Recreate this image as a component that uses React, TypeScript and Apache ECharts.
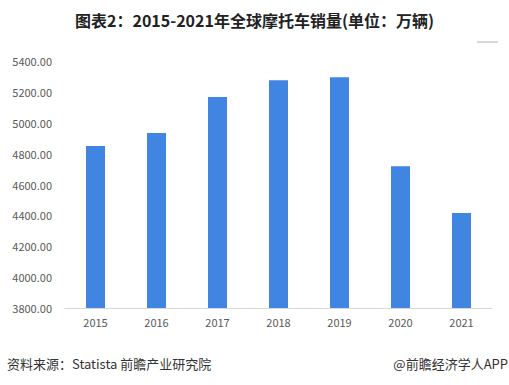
import React, { useEffect, useRef } from "react";
import * as echarts from "echarts";

const years = ["2015", "2016", "2017", "2018", "2019", "2020", "2021"];
const sales = [4850, 4933, 5166, 5276, 5295, 4719, 4415];
const titleText = "图表2：2015-2021年全球摩托车销量(单位：万辆)";
const sourceText = "资料来源：Statista 前瞻产业研究院";
const brandText = "@前瞻经济学人APP";

export default function App() {
  const ref = useRef<HTMLDivElement>(null);
  useEffect(() => {
    if (!ref.current) return;
    const chart = echarts.init(ref.current, undefined, { renderer: "svg" });
    const font = "'Microsoft YaHei', 'Noto Sans CJK SC', sans-serif";
    chart.setOption({
      animation: false,
      backgroundColor: "#ffffff",
      title: {
        text: titleText,
        left: "center",
        top: 7,
        textStyle: { fontSize: 16, fontWeight: "bold", color: "#222", fontFamily: font },
      },
      grid: { left: 65, right: 17, top: 61, bottom: 77 },
      xAxis: {
        type: "category",
        data: years,
        axisLine: { lineStyle: { color: "#d9d9d9" } },
        axisTick: { show: false },
        axisLabel: { color: "#595959", fontSize: 11, margin: 8, fontFamily: font },
      },
      yAxis: {
        type: "value",
        min: 3800,
        max: 5400,
        interval: 200,
        splitLine: { show: false },
        axisLine: { show: false },
        axisTick: { show: false },
        axisLabel: {
          color: "#595959",
          fontSize: 11,
          margin: 13,
          fontFamily: font,
          formatter: (v: number) => v.toFixed(2),
        },
      },
      series: [
        {
          type: "bar",
          data: sales,
          barWidth: 19,
          itemStyle: { color: "#4185e2" },
        },
      ],
      graphic: [
        {
          type: "line",
          shape: { x1: 477, y1: 42, x2: 498, y2: 42 },
          style: { stroke: "#b0b0b0", lineWidth: 1 },
        },
        {
          type: "text",
          left: 7,
          top: 357,
          style: { text: sourceText, fontSize: 13, fill: "#333", fontFamily: font },
        },
        {
          type: "text",
          right: 1,
          top: 357,
          style: { text: brandText, fontSize: 13, fill: "#333", fontFamily: font },
        },
      ],
    });
    return () => chart.dispose();
  }, []);
  return <div ref={ref} style={{ width: 509, height: 385, position: "fixed", left: 0, top: 0 }} />;
}
